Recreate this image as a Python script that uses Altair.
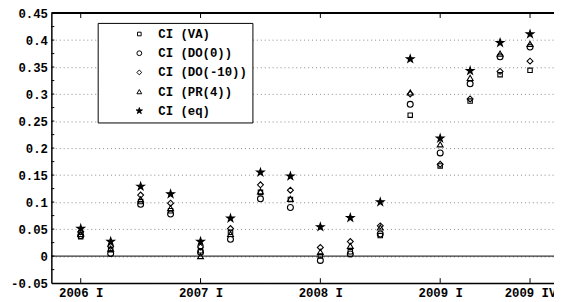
import altair as alt
import pandas as pd

quarters = ["2006 I", "2006 II", "2006 III", "2006 IV",
            "2007 I", "2007 II", "2007 III", "2007 IV",
            "2008 I", "2008 II", "2008 III", "2008 IV",
            "2009 I", "2009 II", "2009 III", "2009 IV"]

series_names = ["CI (VA)", "CI (DO(0))", "CI (DO(-10))", "CI (PR(4))", "CI (eq)"]

ci_va   = [0.036, 0.012, 0.101, 0.084, 0.010, 0.044, 0.118, 0.105,
           0.000, 0.008, 0.038, 0.261, 0.167, 0.287, 0.336, 0.344]
ci_do0  = [0.038, 0.005, 0.096, 0.078, 0.007, 0.031, 0.106, 0.090,
           -0.008, 0.004, 0.041, 0.281, 0.191, 0.319, 0.369, 0.387]
ci_do10 = [0.045, 0.018, 0.113, 0.098, 0.017, 0.051, 0.132, 0.122,
           0.016, 0.027, 0.056, 0.300, 0.170, 0.291, 0.342, 0.361]
ci_pr4  = [0.041, 0.014, 0.105, 0.089, 0.000, 0.041, 0.120, 0.106,
           0.008, 0.019, 0.053, 0.303, 0.207, 0.330, 0.375, 0.393]
ci_eq   = [0.051, 0.027, 0.129, 0.115, 0.027, 0.070, 0.155, 0.148,
           0.054, 0.071, 0.100, 0.365, 0.218, 0.343, 0.395, 0.411]

SQUARE = "M-0.75,-0.75H0.75V0.75H-0.75Z"
STAR = ("M0,-1.35L0.303,-0.417L1.284,-0.417L0.49,0.159L0.794,1.092L0,0.516"
        "L-0.794,1.092L-0.49,0.159L-1.284,-0.417L-0.303,-0.417Z")
shapes = [SQUARE, "circle", "diamond", "triangle-up", STAR]
fills = ["transparent", "transparent", "transparent", "transparent", "black"]
strokes = ["black"] * 5

tick_idx = [0, 4, 8, 12, 15]
y_major = [-0.05, 0.0, 0.05, 0.1, 0.15, 0.2, 0.25, 0.3, 0.35, 0.4, 0.45]
y_minor = [-0.025, 0.025, 0.075, 0.125, 0.175, 0.225, 0.275, 0.325, 0.375, 0.425]

rows = []
for name, vals in zip(series_names, [ci_va, ci_do0, ci_do10, ci_pr4, ci_eq]):
    for i, v in enumerate(vals):
        rows.append({"idx": i, "quarter": quarters[i], "series": name, "value": v})
df = pd.DataFrame(rows)

W, H = 510, 274
FONT = "Liberation Mono"
xscale = alt.Scale(domain=[-0.98, 15.8], nice=False, zero=False)
yscale = alt.Scale(domain=[-0.05, 0.45], nice=False, zero=False)

label_arr = "[" + ",".join("'%s'" % q for q in quarters) + "]"

xaxis = alt.Axis(values=tick_idx, labelExpr=label_arr + "[datum.value]",
                 title=None, grid=False, ticks=False, labelPadding=4,
                 labelOverlap=False, labelBound=False, labelFlush=False)
yaxis = alt.Axis(values=y_major, title=None, ticks=False, grid=True,
                 gridDash=[1, 3], gridColor="#888888", gridWidth=1,
                 labelPadding=4,
                 labelExpr="replace(format(datum.value,'.2~f'),'\u2212','-')")

legend = alt.Legend(title=None, symbolStrokeColor="black", symbolStrokeWidth=1)

points = alt.Chart(df).mark_point(strokeWidth=1.1, opacity=1, size=36).encode(
    x=alt.X("idx:Q", scale=xscale, axis=xaxis),
    y=alt.Y("value:Q", scale=yscale, axis=yaxis),
    shape=alt.Shape("series:N", scale=alt.Scale(domain=series_names, range=shapes), legend=legend),
    fill=alt.Fill("series:N", scale=alt.Scale(domain=series_names, range=fills), legend=legend),
    stroke=alt.Stroke("series:N", scale=alt.Scale(domain=series_names, range=strokes), legend=legend),
)

zero_df = pd.DataFrame({"value": [0.0]})
zero_line = alt.Chart(zero_df).mark_rule(color="black", strokeWidth=1).encode(
    y=alt.Y("value:Q", scale=yscale, axis=yaxis),
    x=alt.value(0), x2=alt.value(W),
)

top_df = pd.DataFrame({"value": [0.45]})
top_border = alt.Chart(top_df).mark_rule(color="black", strokeWidth=2).encode(
    y=alt.Y("value:Q", scale=yscale, axis=yaxis),
    x=alt.value(0), x2=alt.value(W),
)

ytick_df = pd.DataFrame({"value": y_major[1:-1] + y_minor})
yticks = alt.Chart(ytick_df).mark_rule(color="black", strokeWidth=1).encode(
    y=alt.Y("value:Q", scale=yscale, axis=yaxis),
    x=alt.value(0), x2=alt.value(3),
)

xtick_df = pd.DataFrame({"idx": tick_idx, "bottom": [-0.05] * 5, "top": [0.45] * 5})
xticks_bottom = alt.Chart(xtick_df).mark_rule(color="black", strokeWidth=1).encode(
    x=alt.X("idx:Q", scale=xscale, axis=xaxis),
    y=alt.Y("bottom:Q", scale=yscale, axis=yaxis),
    y2=alt.value(H - 5),
)
xticks_top = alt.Chart(xtick_df).mark_rule(color="black", strokeWidth=1).encode(
    x=alt.X("idx:Q", scale=xscale, axis=xaxis),
    y=alt.Y("top:Q", scale=yscale, axis=yaxis),
    y2=alt.value(5),
)

chart = alt.layer(zero_line, yticks, xticks_bottom, xticks_top, top_border, points).properties(
    width=W, height=H,
    autosize=alt.AutoSizeParams(type="none"),
    padding={"left": 44, "top": 3, "right": 0, "bottom": 15},
).configure_view(stroke=None).configure_axis(
    labelFont=FONT, labelFontSize=12.5, labelFontWeight="bold", labelColor="black",
    domainColor="black", domainWidth=1.5,
).configure_legend(
    orient="none", legendX=47, legendY=10,
    strokeColor="black", fillColor="white", padding=5,
    labelFont=FONT, labelFontSize=12.5, labelFontWeight="bold", labelColor="black",
    symbolSize=24, symbolStrokeColor="black", symbolStrokeWidth=1,
    symbolOffset=31, labelOffset=13, rowPadding=6.5, cornerRadius=0,
)

chart.save("out.html", embed_options={"renderer": "svg", "actions": False})
